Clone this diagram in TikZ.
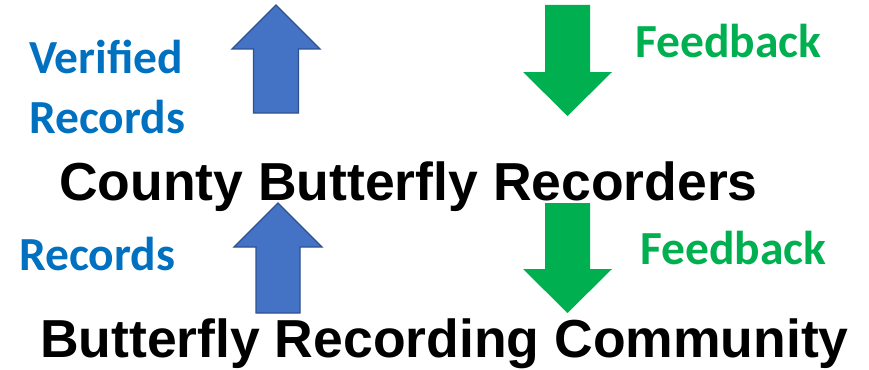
\documentclass[tikz,border=0pt]{standalone}
\usepackage{fontspec}
\newfontfamily\calib{Carlito}
\newfontfamily\arialb{Liberation Sans}
\definecolor{tblue}{HTML}{0070C0}
\definecolor{tgreen}{HTML}{00B050}
\definecolor{afill}{HTML}{4472C4}
\definecolor{aline}{HTML}{2F528F}
\begin{document}
\begin{tikzpicture}[x=1pt,y=-1pt,
  lbl/.style={anchor=base west,inner sep=0pt,font=\calib\bfseries\fontsize{47.5}{50}\selectfont},
  big/.style={anchor=base west,inner sep=0pt,font=\arialb\bfseries\fontsize{53.5}{56}\selectfont},
  uparrow/.style={fill=afill,draw=aline,line width=1.3pt,line join=miter},
  downarrow/.style={fill=tgreen,draw=none}]
\useasboundingbox (0,0) rectangle (869,369);
% up arrows
\draw[uparrow] (276,5) -- (320,49) -- (298.5,49) -- (298.5,113) -- (253.5,113) -- (253.5,49) -- (232,49) -- cycle;
\draw[uparrow] (278,203) -- (322,247) -- (300,247) -- (300,313) -- (256,313) -- (256,247) -- (234,247) -- cycle;
% down arrows
\fill[tgreen] (545,5) -- (590,5) -- (590,72) -- (612,72) -- (567.5,116) -- (523,72) -- (545,72) -- cycle;
\fill[tgreen] (545,203) -- (590,203) -- (590,269) -- (612,269) -- (567.5,313) -- (523,269) -- (545,269) -- cycle;
% labels
\node[lbl,text=tblue] (v1) at (29,73) {Verified};
\node[lbl,text=tblue] (v2) at (29,133) {Records};
\node[lbl,text=tgreen] (f1) at (635,57) {Feedback};
\node[lbl,text=tblue] (r1) at (19,270) {Records};
\node[lbl,text=tgreen] (f2) at (640,264) {Feedback};
\node[big] (c) at (59,200) {County Butterfly Recorders};
\node[big] (b) at (40,357) {Butterfly Recording Community};
\end{tikzpicture}
\end{document}
